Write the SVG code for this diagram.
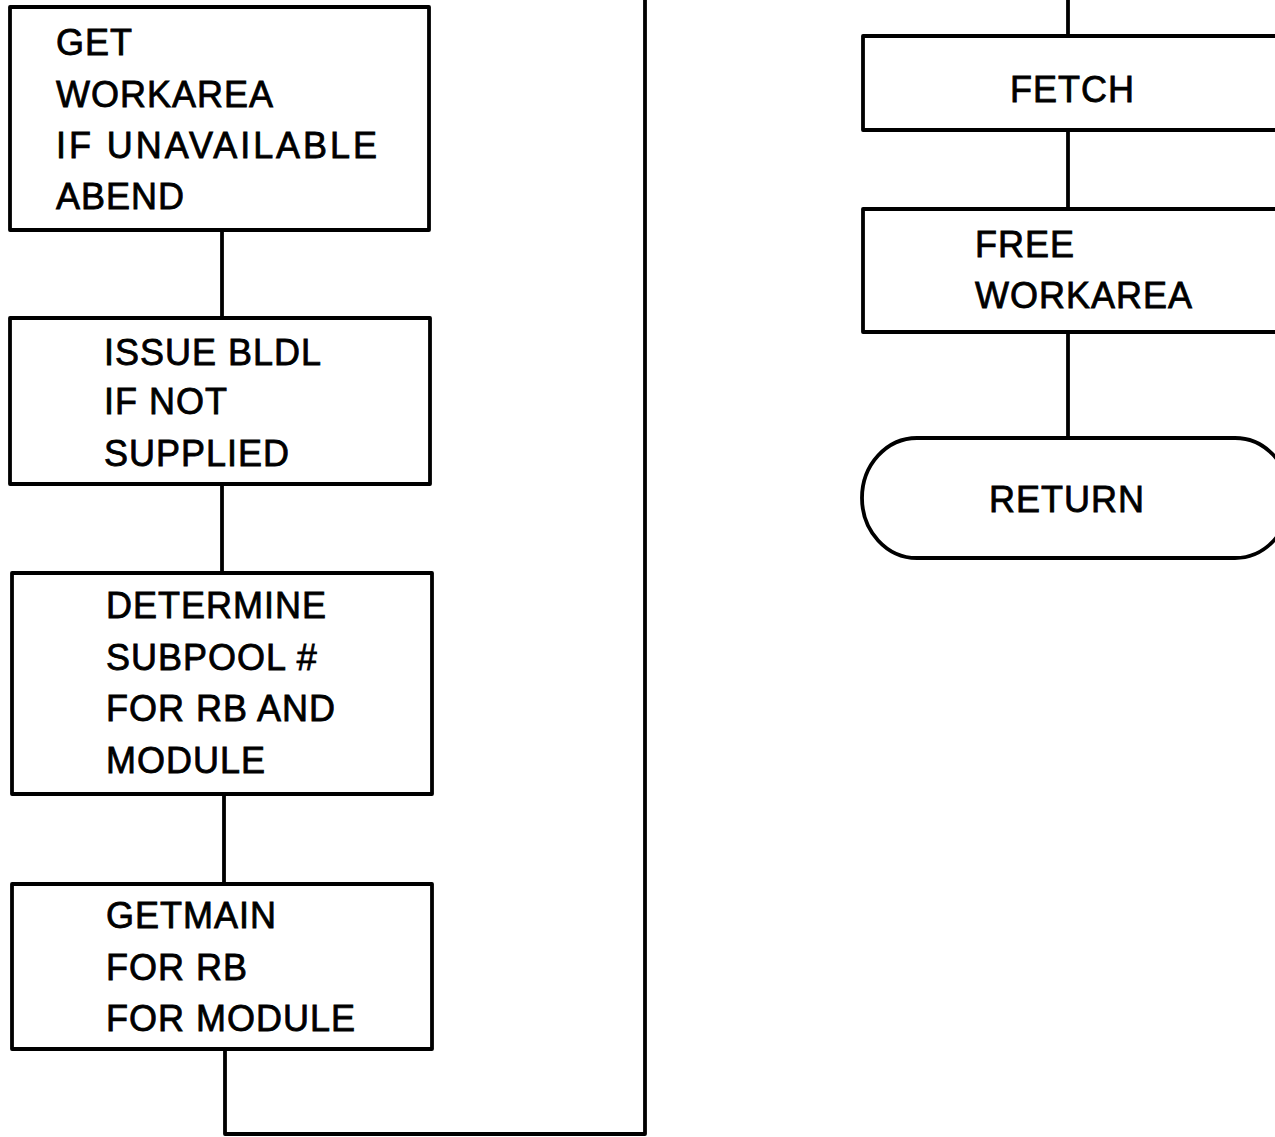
<svg xmlns="http://www.w3.org/2000/svg" width="1275" height="1137" viewBox="0 0 1275 1137">
  <style>
    .box { fill: #ffffff; stroke: #000000; stroke-width: 3.8; stroke-linejoin: round; }
    .wire { fill: none; stroke: #000000; stroke-width: 3.8; stroke-linejoin: round; }
    .lbl { font-family: "Liberation Sans", Arial, Helvetica, sans-serif; font-size: 36px; fill: #000000; letter-spacing: 1px; stroke: #000000; stroke-width: 0.8; }
  </style>
  <rect width="1275" height="1137" fill="#ffffff"/>

  <!-- connectors -->
  <g id="connectors">
    <line class="wire" x1="222" y1="231" x2="222" y2="318"/>
    <line class="wire" x1="222" y1="484" x2="222" y2="573"/>
    <line class="wire" x1="224" y1="794" x2="224" y2="884"/>
    <!-- loop from the last left step up to the right column -->
    <polyline class="wire" points="225,1049 225,1134 645,1134 645,0"/>
    <line class="wire" x1="1068" y1="0" x2="1068" y2="36"/>
    <line class="wire" x1="1068" y1="130" x2="1068" y2="209"/>
    <line class="wire" x1="1068" y1="332" x2="1068" y2="438"/>
  </g>

  <g id="get-workarea">
    <rect class="box" x="10" y="7" width="419" height="223"/>
    <text class="lbl" x="56" y="55">GET</text>
    <text class="lbl" x="56" y="107">WORKAREA</text>
    <text class="lbl" x="56" y="158" textLength="322" lengthAdjust="spacing">IF UNAVAILABLE</text>
    <text class="lbl" x="56" y="209">ABEND</text>
  </g>

  <g id="issue-bldl">
    <rect class="box" x="10" y="318" width="420" height="166"/>
    <text class="lbl" x="104" y="365">ISSUE BLDL</text>
    <text class="lbl" x="104" y="414">IF NOT</text>
    <text class="lbl" x="104" y="466">SUPPLIED</text>
  </g>

  <g id="determine-subpool">
    <rect class="box" x="12" y="573" width="420" height="221"/>
    <text class="lbl" x="106" y="618">DETERMINE</text>
    <text class="lbl" x="106" y="670">SUBPOOL #</text>
    <text class="lbl" x="106" y="721">FOR RB AND</text>
    <text class="lbl" x="106" y="773">MODULE</text>
  </g>

  <g id="getmain">
    <rect class="box" x="12" y="884" width="420" height="165"/>
    <text class="lbl" x="106" y="928">GETMAIN</text>
    <text class="lbl" x="106" y="980">FOR RB</text>
    <text class="lbl" x="106" y="1031">FOR MODULE</text>
  </g>

  <g id="fetch">
    <rect class="box" x="863" y="36" width="440" height="94"/>
    <text class="lbl" x="1010" y="102">FETCH</text>
  </g>

  <g id="free-workarea">
    <rect class="box" x="863" y="209" width="440" height="123"/>
    <text class="lbl" x="975" y="257">FREE</text>
    <text class="lbl" x="975" y="308">WORKAREA</text>
  </g>

  <g id="return">
    <rect class="box" x="862" y="438" width="428" height="120" rx="55" ry="60"/>
    <text class="lbl" x="989" y="512">RETURN</text>
  </g>
</svg>
